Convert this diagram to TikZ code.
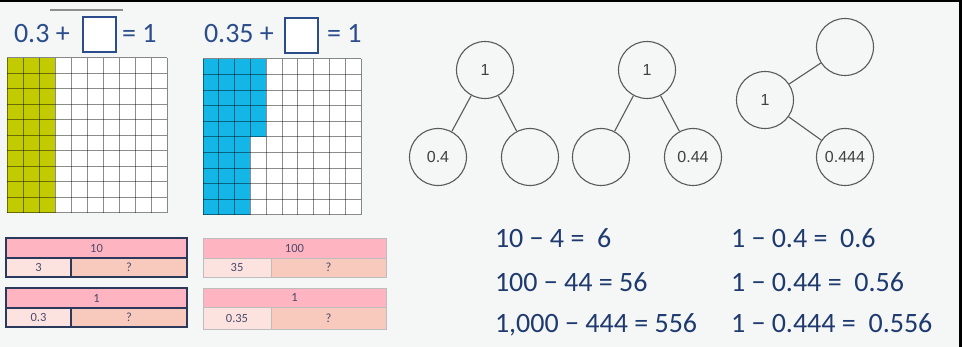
\documentclass[tikz,border=0pt]{standalone}
\usepackage{fontspec}
\setmainfont{Carlito}
\newfontfamily\circfont{Liberation Sans}
\definecolor{bgcol}{HTML}{F5F6F6}
\definecolor{eqtext}{HTML}{1F3A6E}
\definecolor{topeq}{HTML}{2C4D8C}
\definecolor{grgreen}{HTML}{C2CA00}
\definecolor{grblue}{HTML}{14B6E8}
\definecolor{gridcol}{HTML}{8E8E8E}
\definecolor{barpink}{HTML}{FFB4C2}
\definecolor{barlight}{HTML}{FDE3E0}
\definecolor{barsalmon}{HTML}{F8CABD}
\definecolor{navyb}{HTML}{2B3A5C}
\definecolor{lightb}{HTML}{BDBDBD}
\definecolor{bartext}{HTML}{4A4A6A}
\definecolor{circgray}{HTML}{5A5A5A}
\definecolor{circtext}{HTML}{404040}
\tikzset{
  eqt/.style={inner sep=0pt, outer sep=0pt, text=eqtext, font=\fontsize{28}{30}\selectfont, anchor=base west},
  topt/.style={inner sep=0pt, outer sep=0pt, text=topeq, font=\fontsize{28}{30}\selectfont, anchor=base west},
  ansbox/.style={draw=topeq, line width=1.4pt, fill=white, minimum width=33pt, minimum height=35pt, inner sep=0pt},
  gridln/.style={draw=black, draw opacity=0.45, line width=1pt},
  cell/.style={rectangle, inner sep=0pt, outer sep=0pt, font=\fontsize{12.5}{13}\selectfont, text=bartext},
  darkcell/.style={cell, draw=navyb, line width=1.3pt},
  lightcell/.style={cell, draw=lightb, line width=0.9pt},
  bubble/.style={circle, draw=circgray, line width=1.1pt, minimum size=57pt, inner sep=0pt, font=\circfont\fontsize{16}{18}\selectfont, text=circtext},
  link/.style={draw=circgray, line width=1.1pt}
}
\begin{document}
\begin{tikzpicture}[x=1pt,y=-1pt]
\fill[bgcol] (0,0) rectangle (962,347);
\fill[black] (0,0) rectangle (962,2);
\fill[black] (959,0) rectangle (962,347);
\useasboundingbox (0,0) rectangle (962,347);

% ---------- grid 1 ----------
\fill[white] (7,58) rectangle (167,213);
\fill[grgreen] (7,58) rectangle (55,213);
\foreach \i in {0,...,10} \draw[gridln] (7+16*\i,58) -- (7+16*\i,213);
\foreach \j in {0,...,10} \draw[gridln] (7,58+15.5*\j) -- (167,58+15.5*\j);

% ---------- grid 2 ----------
\fill[white] (203,59) rectangle (361,215);
\fill[grblue] (203,59) rectangle (250.4,215);
\fill[grblue] (250.4,59) rectangle (266.2,137);
\foreach \i in {0,...,10} \draw[gridln] (203+15.8*\i,59) -- (203+15.8*\i,215);
\foreach \j in {0,...,10} \draw[gridln] (203,59+15.6*\j) -- (361,59+15.6*\j);

% ---------- top equations ----------
\draw[draw=gridcol, line width=2pt] (50,10) -- (123,10);
\node[topt] (e1a) at (14,43) {0.3 +};
\node[ansbox] (b1) at (99.5,34.5) {};
\node[topt] (e1b) at (122,43) {= 1};
\node[topt] (e2a) at (204,43) {0.35 +};
\node[ansbox] (b2) at (301.5,35.5) {};
\node[topt] (e2b) at (327,43) {= 1};

% ---------- bar models ----------
\node[darkcell, fill=barpink, minimum width=181pt, minimum height=20pt] (bar1t) at (96.5,248) {10};
\node[darkcell, fill=barlight, minimum width=65pt, minimum height=19pt] (bar1l) at (38.5,267.5) {3};
\node[darkcell, fill=barsalmon, minimum width=116pt, minimum height=19pt] (bar1r) at (129,267.5) {?};

\node[lightcell, fill=barpink, minimum width=183pt, minimum height=20pt] (bar2t) at (294.5,248) {100};
\node[lightcell, fill=barlight, minimum width=68pt, minimum height=19pt] (bar2l) at (237,267.5) {35};
\node[lightcell, fill=barsalmon, minimum width=115pt, minimum height=19pt] (bar2r) at (328.5,267.5) {?};

\node[darkcell, fill=barpink, minimum width=181pt, minimum height=20pt] (bar3t) at (96.5,298) {1};
\node[darkcell, fill=barlight, minimum width=65pt, minimum height=19pt] (bar3l) at (38.5,317.5) {0.3};
\node[darkcell, fill=barsalmon, minimum width=116pt, minimum height=19pt] (bar3r) at (129,317.5) {?};

\node[lightcell, fill=barpink, minimum width=183pt, minimum height=19pt] (bar4t) at (294.5,297.5) {1};
\node[lightcell, fill=barlight, minimum width=68pt, minimum height=22pt] (bar4l) at (237,318) {0.35};
\node[lightcell, fill=barsalmon, minimum width=115pt, minimum height=22pt] (bar4r) at (328.5,318) {?};

% ---------- part-whole trees ----------
\node[bubble] (t1top) at (485,70) {1};
\node[bubble] (t1l) at (438,157) {0.4};
\node[bubble] (t1r) at (530,157) {};
\draw[link] (t1top) -- (t1l);
\draw[link] (t1top) -- (t1r);

\node[bubble] (t2top) at (647,70) {1};
\node[bubble] (t2l) at (601,157) {};
\node[bubble] (t2r) at (693,157) {0.44};
\draw[link] (t2top) -- (t2l);
\draw[link] (t2top) -- (t2r);

\node[bubble] (t3l) at (765,100) {1};
\node[bubble] (t3tr) at (845,47) {};
\node[bubble] (t3br) at (845,157) {0.444};
\draw[link] (t3l) -- (t3tr);
\draw[link] (t3l) -- (t3br);

% ---------- equations ----------
\node[eqt] (q1a) at (495,248) {10 − 4 =\ \ 6};
\node[eqt] (q2a) at (495,291.5) {100 − 44 = 56};
\node[eqt] (q3a) at (495,333) {1,000 − 444 = 556};
\node[eqt] (q1b) at (731,248) {1 − 0.4 =\ \ 0.6};
\node[eqt] (q2b) at (731,291.5) {1 − 0.44 =\ \ 0.56};
\node[eqt] (q3b) at (731,333) {1 − 0.444 =\ \ 0.556};
\end{tikzpicture}
\end{document}
